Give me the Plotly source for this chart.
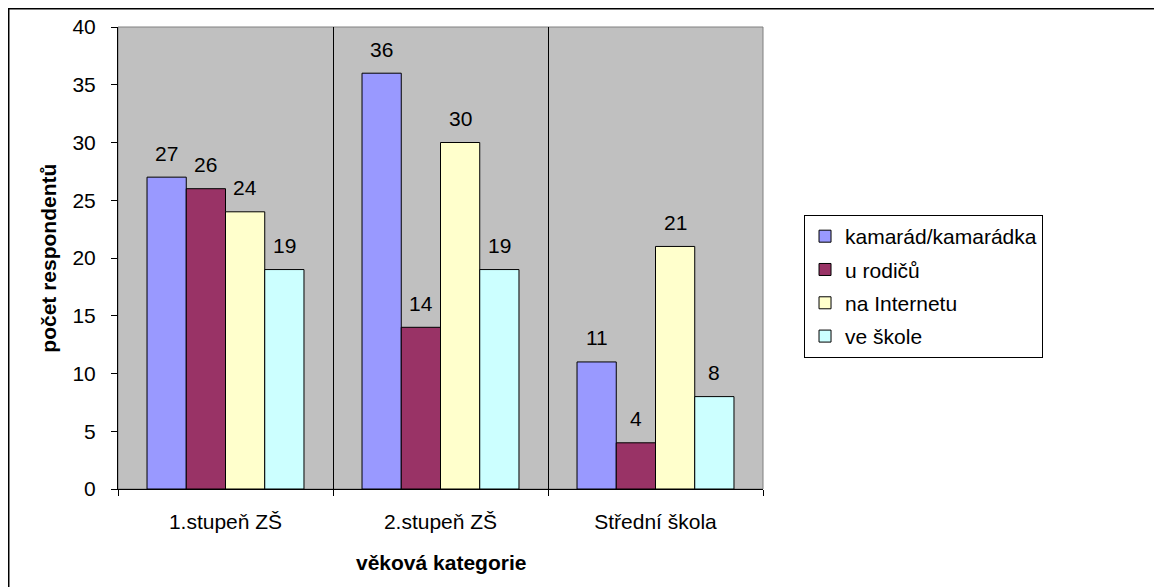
import plotly.graph_objects as go

# Data
categories = ['1.stupeň ZŠ', '2.stupeň ZŠ', 'Střední škola']
series_names = ['kamarád/kamarádka', 'u rodičů', 'na Internetu', 've škole']
kamarad = [27, 36, 11]
u_rodicu = [26, 14, 4]
na_internetu = [24, 30, 21]
ve_skole = [19, 19, 8]
y_ticks = [0, 5, 10, 15, 20, 25, 30, 35, 40]

colors = ['#9999FF', '#993366', '#FFFFCC', '#CCFFFF']
font_family = 'Liberation Sans, Arial, sans-serif'
bargap = 0.27

all_series = [kamarad, u_rodicu, na_internetu, ve_skole]

fig = go.Figure()
for name, vals, col in zip(series_names, all_series, colors):
    fig.add_trace(go.Bar(
        x=categories, y=vals, name=name, legendgroup=name,
        marker=dict(color=col, line=dict(color='black', width=1)),
    ))

# value labels above the bars (Excel places them a bit higher than plotly's 'outside')
n = len(all_series)
bar_w = (1 - bargap) / n
for i, vals in enumerate(all_series):
    offset = -(1 - bargap) / 2 + bar_w * (i + 0.5)
    for j, v in enumerate(vals):
        fig.add_annotation(x=j + offset, y=v, text=str(v), showarrow=False,
                           yanchor='middle', yshift=24,
                           font=dict(size=21, color='black', family=font_family))

fig.update_layout(
    width=1154, height=579,
    barmode='group', bargap=bargap, bargroupgap=0,
    paper_bgcolor='white', plot_bgcolor='#C0C0C0',
    font=dict(family=font_family, size=21, color='black'),
    margin=dict(l=110, r=399, t=19, b=98, autoexpand=False),
    legend=dict(
        x=1.0636, y=0.593, xanchor='left', yanchor='top',
        bordercolor='black', borderwidth=1, bgcolor='white',
        font=dict(size=21, family=font_family),
        tracegroupgap=3, itemwidth=30,
    ),
    showlegend=True,
)

fig.update_xaxes(
    type='category', tickson='boundaries', ticks='outside', ticklen=6,
    tickcolor='black', showline=True, linecolor='black', linewidth=1,
    showgrid=True, gridcolor='black', gridwidth=1,
    ticklabelstandoff=14, range=[-0.5, 2.5],
)
fig.update_yaxes(
    range=[0, 40], tickvals=y_ticks, ticks='outside', ticklen=6,
    tickcolor='black', showline=True, linecolor='black', linewidth=1,
    showgrid=False, zeroline=False, ticklabelstandoff=11,
)

# axis titles
fig.add_annotation(x=0.5, y=-0.160, xref='paper', yref='paper', text='<b>věková kategorie</b>',
                   showarrow=False, xanchor='center', yanchor='middle',
                   font=dict(size=21, family=font_family))
fig.add_annotation(x=-0.109, y=0.5, xref='paper', yref='paper', text='<b>počet respondentů</b>',
                   showarrow=False, xanchor='center', yanchor='middle', textangle=-90,
                   font=dict(size=21, family=font_family))

# grey plot-area frame and outer chart border
fig.add_shape(type='rect', xref='paper', yref='paper', x0=0, x1=1, y0=0, y1=1,
              line=dict(color='#808080', width=1), layer='below')
fig.add_shape(type='rect', xref='paper', yref='paper', x0=-0.1694, x1=1.9, y0=-0.4, y1=1.0395,
              line=dict(color='black', width=1.5), layer='below')

fig.write_html("out.html")
